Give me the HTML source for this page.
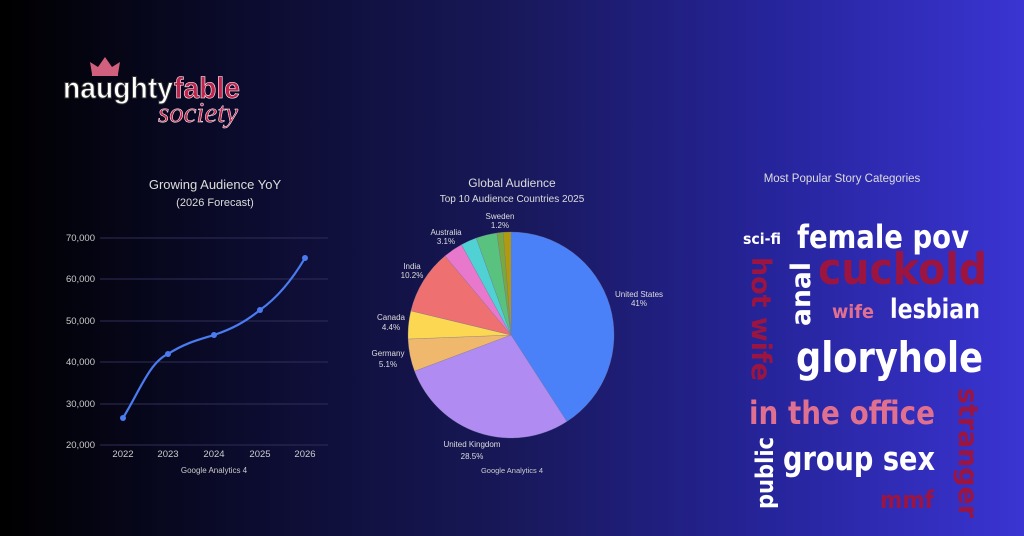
<!DOCTYPE html>
<html><head><meta charset="utf-8"><style>
html,body{margin:0;padding:0}
body{width:1024px;height:536px;overflow:hidden;background:linear-gradient(90deg,#000 0%,#0c0c30 25%,#18185a 50%,#26249a 75%,#3a34d2 100%);font-family:"Liberation Sans",sans-serif}
</style></head><body>
<svg width="1024" height="536" xmlns="http://www.w3.org/2000/svg" style="position:absolute;left:0;top:0">
<!-- logo -->
<polygon points="92,74 90,62 98,67 105,57 112,67 120,62 118,74" fill="#d0607e"/>
<rect x="92" y="73" width="26" height="3" fill="#d0607e"/>
<text x="63" y="98" font-size="30" font-weight="bold" fill="#fff" stroke="#333" stroke-width="1" textLength="110" lengthAdjust="spacingAndGlyphs">naughty</text>
<text x="174" y="98" font-size="30" font-weight="bold" fill="#c0234d" stroke="#fff" stroke-width="0.6" textLength="66" lengthAdjust="spacingAndGlyphs">fable</text>
<text x="158" y="122" font-size="28" font-style="italic" font-family="Liberation Serif,serif" fill="#c0234d" stroke="#fff" stroke-width="0.5" textLength="80" lengthAdjust="spacingAndGlyphs">society</text>

<!-- line chart -->
<text x="215" y="189" font-size="13" fill="#ddd" text-anchor="middle">Growing Audience YoY</text>
<text x="215" y="206" font-size="11" fill="#ddd" text-anchor="middle">(2026 Forecast)</text>
<g stroke="#2e2e58" stroke-width="1">
<line x1="100" y1="238" x2="328" y2="238"/><line x1="100" y1="279" x2="328" y2="279"/><line x1="100" y1="321" x2="328" y2="321"/><line x1="100" y1="362" x2="328" y2="362"/><line x1="100" y1="404" x2="328" y2="404"/><line x1="100" y1="445" x2="328" y2="445"/>
</g>
<g font-size="9.5" fill="#ccc" text-anchor="end">
<text x="95" y="241">70,000</text><text x="95" y="282">60,000</text><text x="95" y="324">50,000</text><text x="95" y="365">40,000</text><text x="95" y="407">30,000</text><text x="95" y="448">20,000</text>
</g>
<g font-size="9.5" fill="#ccc" text-anchor="middle">
<text x="123" y="457">2022</text><text x="168" y="457">2023</text><text x="214" y="457">2024</text><text x="260" y="457">2025</text><text x="305" y="457">2026</text>
</g>
<text x="214" y="473" font-size="8" fill="#ccc" text-anchor="middle">Google Analytics 4</text>
<path d="M123,418 C140,390 150,362 168,354 C185,343 198,340 214,335 C232,329 245,322 260,310 C277,298 292,280 305,258" fill="none" stroke="#4a7cf0" stroke-width="2.2"/>
<g fill="#4a7cf0"><circle cx="123" cy="418" r="3"/><circle cx="168" cy="354" r="3"/><circle cx="214" cy="335" r="3"/><circle cx="260" cy="310" r="3"/><circle cx="305" cy="258" r="3"/></g>

<!-- pie -->
<text x="512" y="187" font-size="12" fill="#ddd" text-anchor="middle">Global Audience</text>
<text x="512" y="202" font-size="10" fill="#ddd" text-anchor="middle">Top 10 Audience Countries 2025</text>
<g id="pie" stroke="#7a7aa0" stroke-width="0.3"></g>
<g font-size="8" fill="#ddd" text-anchor="middle">
<text x="639" y="297">United States</text><text x="639" y="306">41%</text>
<text x="472" y="447">United Kingdom</text><text x="472" y="459">28.5%</text>
<text x="388" y="356">Germany</text><text x="388" y="367">5.1%</text>
<text x="391" y="320">Canada</text><text x="391" y="330">4.4%</text>
<text x="412" y="269">India</text><text x="412" y="278">10.2%</text>
<text x="446" y="235">Australia</text><text x="446" y="244">3.1%</text>
<text x="500" y="219">Sweden</text><text x="500" y="228">1.2%</text>
</g>
<text x="512" y="473" font-size="7.5" fill="#ccc" text-anchor="middle">Google Analytics 4</text>

<!-- word cloud -->
<text x="842" y="182" font-size="11.5" fill="#ddd" text-anchor="middle">Most Popular Story Categories</text>
<g font-family="DejaVu Sans,Liberation Sans,sans-serif" font-weight="bold">
<text x="743" y="244" font-size="15" fill="#fff" textLength="38" lengthAdjust="spacingAndGlyphs">sci-fi</text>
<text x="797" y="248" font-size="32" fill="#fff" textLength="172" lengthAdjust="spacingAndGlyphs">female pov</text>
<text x="818" y="284" font-size="44" fill="#9b1540" textLength="169" lengthAdjust="spacingAndGlyphs">cuckold</text>
<text transform="translate(752,257) rotate(90)" font-size="27" fill="#9b1540" textLength="124" lengthAdjust="spacingAndGlyphs">hot wife</text>
<text transform="translate(810,326) rotate(-90)" font-size="27" fill="#fff" textLength="64" lengthAdjust="spacingAndGlyphs">anal</text>
<text x="832" y="318" font-size="19" fill="#e07090" textLength="42" lengthAdjust="spacingAndGlyphs">wife</text>
<text x="890" y="318" font-size="27" fill="#fff" textLength="90" lengthAdjust="spacingAndGlyphs">lesbian</text>
<text x="796" y="372" font-size="42" fill="#fff" textLength="187" lengthAdjust="spacingAndGlyphs">gloryhole</text>
<text x="749" y="424" font-size="32" fill="#e07090" textLength="186" lengthAdjust="spacingAndGlyphs">in the office</text>
<text transform="translate(959,388) rotate(90)" font-size="27" fill="#9b1540" textLength="130" lengthAdjust="spacingAndGlyphs">stranger</text>
<text transform="translate(773,509) rotate(-90)" font-size="24" fill="#fff" textLength="72" lengthAdjust="spacingAndGlyphs">public</text>
<text x="783" y="470" font-size="33" fill="#fff" textLength="152" lengthAdjust="spacingAndGlyphs">group sex</text>
<text x="880" y="508" font-size="24" fill="#9b1540" textLength="54" lengthAdjust="spacingAndGlyphs">mmf</text>
</g>
</svg>
<script>
(function(){
var cx=511,cy=335,r=103;
var d=[[41,"#4a80f8"],[28.5,"#b08cf2"],[5.1,"#f0b86c"],[4.4,"#fcd752"],[10.2,"#ef7070"],[3.1,"#e878cc"],[2.5,"#50d2d4"],[3.3,"#58c27e"],[1.0,"#78a840"],[1.2,"#b09a10"]];
var tot=d.reduce(function(a,b){return a+b[0]},0),a0=-Math.PI/2,g=document.getElementById("pie"),s="";
d.forEach(function(p){var a1=a0+p[0]/tot*2*Math.PI;var x0=cx+r*Math.cos(a0),y0=cy+r*Math.sin(a0),x1=cx+r*Math.cos(a1),y1=cy+r*Math.sin(a1);
s+='<path d="M'+cx+','+cy+' L'+x0+','+y0+' A'+r+','+r+' 0 '+((a1-a0)>Math.PI?1:0)+' 1 '+x1+','+y1+' Z" fill="'+p[1]+'"/>';a0=a1;});
g.innerHTML=s;})();
</script>
</body></html>
